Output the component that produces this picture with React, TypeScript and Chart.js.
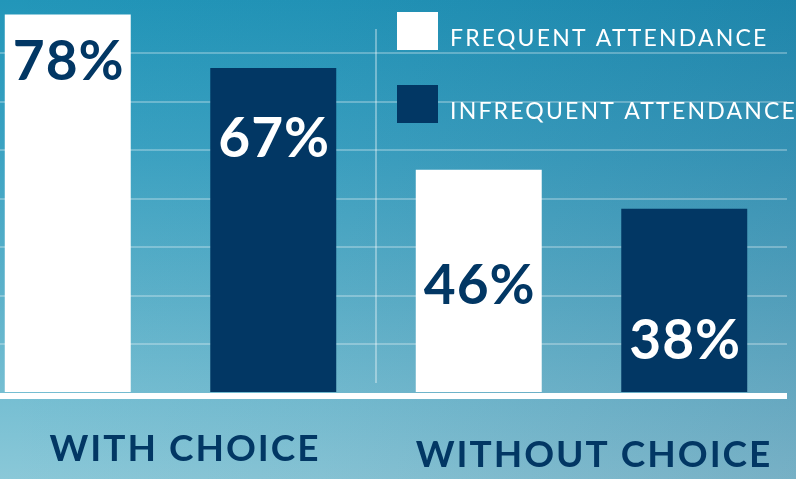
import { useEffect, useRef } from 'react';
import { Chart, registerables } from 'chart.js';

Chart.register(...registerables);

const categories = ['WITH CHOICE', 'WITHOUT CHOICE'];
const seriesLabels = ['FREQUENT ATTENDANCE', 'INFREQUENT ATTENDANCE'];
const frequentValues = [78, 46];
const infrequentValues = [67, 38];
const yMax = 81;
const gridStep = 10;

// styles / layout
const SHIFT = 35;
const W = 796 + SHIFT;
const H = 479;
const NAVY = '#023764';
const WHITE = '#ffffff';
const seriesColors = [WHITE, NAVY];
const valueTextColors = [NAVY, WHITE];
const labelDrop = [
  [65, 134],
  [89, 150],
];
const catLabelPos = [
  { dx: 14.5, base: 461 },
  { dx: 12.5, base: 467 },
];
const FONT = 'Lato, "Open Sans", sans-serif';

const decor = {
  id: 'decor',
  beforeDatasetsDraw(chart: any) {
    const { ctx, scales } = chart;
    const x = scales.x;
    const xd = (x.getPixelForValue(0) + x.getPixelForValue(1)) / 2;
    ctx.save();
    ctx.strokeStyle = 'rgba(255,255,255,0.35)';
    ctx.lineWidth = 2;
    ctx.beginPath();
    ctx.moveTo(xd, 29);
    ctx.lineTo(xd, 383);
    ctx.stroke();
    ctx.restore();
  },
  afterDatasetsDraw(chart: any) {
    const { ctx, scales, chartArea } = chart;
    const x = scales.x;
    const y = scales.y;
    ctx.save();
    // baseline
    const y0 = y.getPixelForValue(0);
    ctx.fillStyle = WHITE;
    ctx.fillRect(chartArea.left, y0, chartArea.right - chartArea.left, 6);

    // value labels
    ctx.textAlign = 'center';
    ctx.textBaseline = 'alphabetic';
    ctx.font = `bold 55px ${FONT}`;
    (ctx as any).letterSpacing = '1px';
    chart.data.datasets.forEach((ds: any, i: number) => {
      const meta = chart.getDatasetMeta(i);
      meta.data.forEach((bar: any, j: number) => {
        ctx.fillStyle = valueTextColors[i];
        ctx.fillText(`${ds.data[j]}%`, bar.x + 1, bar.y + labelDrop[i][j]);
      });
    });

    // category labels
    ctx.font = `bold 37px ${FONT}`;
    ctx.fillStyle = NAVY;
    (ctx as any).letterSpacing = '2px';
    categories.forEach((c, j) => {
      ctx.fillText(c, x.getPixelForValue(j) + catLabelPos[j].dx, catLabelPos[j].base);
    });

    // legend
    ctx.textAlign = 'left';
    ctx.font = `23px ${FONT}`;
    (ctx as any).letterSpacing = '2.2px';
    const legendY = [12, 85];
    seriesLabels.forEach((s, i) => {
      ctx.fillStyle = seriesColors[i];
      ctx.fillRect(397 + SHIFT, legendY[i], 41, 38);
      ctx.fillStyle = WHITE;
      ctx.fillText(s, 450 + SHIFT, legendY[i] + 34);
    });
    ctx.restore();
  },
};

export default function App() {
  const ref = useRef<HTMLCanvasElement>(null);
  useEffect(() => {
    if (!ref.current) return;
    const chart = new Chart(ref.current, {
      type: 'bar',
      data: {
        labels: categories,
        datasets: [
          { label: seriesLabels[0], data: frequentValues, backgroundColor: seriesColors[0] },
          { label: seriesLabels[1], data: infrequentValues, backgroundColor: seriesColors[1] },
        ],
      },
      options: {
        responsive: false,
        animation: false,
        devicePixelRatio: 1,
        layout: { padding: { left: 0, right: 9, top: 0, bottom: 86 } },
        datasets: { bar: { categoryPercentage: 1, barPercentage: 0.613 } },
        plugins: { legend: { display: false }, tooltip: { enabled: false } },
        scales: {
          x: { display: false },
          y: {
            min: 0,
            max: yMax,
            ticks: { display: false, stepSize: gridStep },
            border: { display: false },
            grid: {
              drawTicks: false,
              lineWidth: 2,
              color: (c: any) =>
                c.tick && c.tick.value > 0 && c.tick.value % gridStep === 0
                  ? 'rgba(255,255,255,0.28)'
                  : 'rgba(0,0,0,0)',
            },
            afterFit: (s: any) => {
              s.width = 0;
            },
          },
        },
      },
      plugins: [decor],
    });
    return () => chart.destroy();
  }, []);

  return (
    <div
      style={{
        position: 'fixed',
        left: 0,
        top: 0,
        width: 796,
        height: 479,
        overflow: 'hidden',
        background:
          'linear-gradient(to right, rgba(10,40,90,0) 0%, rgba(10,40,90,0.04) 40%, rgba(10,40,90,0.15) 100%), linear-gradient(to bottom, #2296b9 0%, #3aa2c2 30%, #5bb1ca 60%, #75bed2 82%, #8ac8d8 100%)',
      }}
    >
      <canvas
        ref={ref}
        width={W}
        height={H}
        style={{ position: 'absolute', left: -SHIFT, top: 0, width: W, height: H }}
      />
    </div>
  );
}
